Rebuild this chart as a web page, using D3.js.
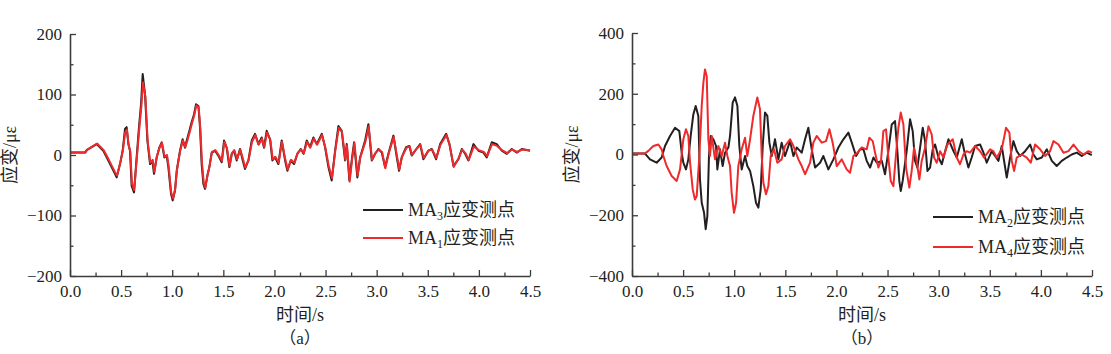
<!DOCTYPE html>
<head>
<meta charset="utf-8">
<script src="https://d3js.org/d3.v7.min.js"></script>
<style>
  body { margin: 0; background: #fff; }
  svg text { font-family: "Liberation Serif", "Noto Sans CJK SC", serif; fill: #231f20; }
</style>
</head>
<body>
<div id="chart"></div>
<script>
// ---- data ----
var xTicks = [0, 0.5, 1.0, 1.5, 2.0, 2.5, 3.0, 3.5, 4.0, 4.5];
var yTicksA = [-200, -100, 0, 100, 200];
var yTicksB = [-400, -200, 0, 200, 400];

// (a) MA3 (black) and MA1 (red), [time s, strain]
var ma3 = [[0,4],[0.147,4],[0.163,8],[0.261,18],[0.326,7],[0.375,-9],[0.44,-31],[0.457,-37],[0.489,-15],[0.515,7],
  [0.538,43],[0.554,46],[0.571,18],[0.587,7],[0.603,-51],[0.626,-62],[0.652,-4],[0.675,46],[0.695,84],[0.711,134],
  [0.734,100],[0.757,24],[0.783,-15],[0.806,-10],[0.822,-31],[0.848,-4],[0.874,12],[0.897,21],[0.923,-4],[0.946,-1],
  [0.962,-20],[0.988,-64],[1.005,-75],[1.027,-59],[1.044,-26],[1.076,7],[1.102,26],[1.125,12],[1.142,24],[1.168,40],
  [1.19,54],[1.213,67],[1.233,84],[1.256,81],[1.272,46],[1.288,-15],[1.305,-48],[1.321,-56],[1.344,-34],[1.363,-20],
  [1.386,4],[1.419,7],[1.451,-1],[1.484,-12],[1.507,24],[1.533,12],[1.559,-20],[1.582,2],[1.605,7],[1.631,-9],
  [1.663,10],[1.69,-9],[1.712,-23],[1.745,-9],[1.778,24],[1.81,35],[1.843,18],[1.875,29],[1.898,12],[1.924,40],
  [1.957,26],[1.98,-9],[2.006,-4],[2.038,-15],[2.071,24],[2.104,-9],[2.127,-26],[2.159,-9],[2.192,-15],[2.224,2],
  [2.257,10],[2.285,2],[2.316,24],[2.348,13],[2.381,29],[2.414,18],[2.463,35],[2.495,13],[2.528,-20],[2.56,-42],
  [2.593,7],[2.626,48],[2.658,40],[2.691,-9],[2.707,18],[2.733,-42],[2.756,-9],[2.779,21],[2.811,-37],[2.838,-4],
  [2.887,24],[2.919,51],[2.952,-9],[2.985,2],[3.017,10],[3.05,4],[3.082,-20],[3.115,2],[3.164,32],[3.197,-4],
  [3.219,-26],[3.245,-4],[3.288,13],[3.32,15],[3.343,-1],[3.376,7],[3.425,18],[3.457,-7],[3.506,7],[3.539,10],
  [3.581,-7],[3.621,18],[3.68,35],[3.712,18],[3.751,-18],[3.8,-7],[3.833,10],[3.865,2],[3.898,-9],[3.947,18],
  [3.996,7],[4.045,4],[4.077,-4],[4.126,21],[4.175,18],[4.224,7],[4.273,2],[4.322,10],[4.371,4],[4.42,10],[4.5,7]];
var ma1 = [[0,4],[0.15,4],[0.17,9],[0.265,19],[0.33,8],[0.38,-8],[0.445,-30],[0.46,-34],[0.492,-13],[0.518,8],
  [0.54,38],[0.557,42],[0.574,16],[0.59,6],[0.606,-47],[0.628,-58],[0.655,-3],[0.678,44],[0.698,80],[0.714,120],
  [0.738,96],[0.76,22],[0.786,-13],[0.809,-8],[0.825,-28],[0.85,-2],[0.877,13],[0.9,20],[0.926,-3],[0.949,0],
  [0.965,-18],[0.99,-62],[1.008,-72],[1.03,-55],[1.047,-24],[1.079,8],[1.105,24],[1.128,13],[1.145,22],[1.171,38],
  [1.193,52],[1.216,66],[1.236,82],[1.259,79],[1.275,44],[1.291,-12],[1.308,-45],[1.324,-54],[1.347,-32],[1.366,-18],
  [1.389,5],[1.422,8],[1.454,0],[1.487,-10],[1.51,22],[1.536,11],[1.562,-18],[1.585,3],[1.608,8],[1.634,-7],
  [1.666,9],[1.693,-7],[1.715,-21],[1.748,-8],[1.781,22],[1.813,33],[1.846,17],[1.878,27],[1.901,13],[1.927,37],
  [1.96,25],[1.983,-7],[2.009,-3],[2.041,-13],[2.074,22],[2.107,-8],[2.13,-24],[2.162,-8],[2.195,-13],[2.227,3],
  [2.26,9],[2.288,3],[2.319,22],[2.351,12],[2.384,27],[2.417,17],[2.466,33],[2.498,12],[2.531,-18],[2.563,-38],
  [2.596,8],[2.629,45],[2.661,38],[2.694,-8],[2.71,16],[2.736,-44],[2.759,-8],[2.782,20],[2.814,-34],[2.841,-3],
  [2.89,22],[2.922,47],[2.955,-8],[2.988,3],[3.02,9],[3.053,5],[3.085,-22],[3.118,3],[3.167,30],[3.2,-3],
  [3.222,-24],[3.248,-3],[3.291,12],[3.323,14],[3.346,0],[3.379,8],[3.428,17],[3.46,-5],[3.509,8],[3.542,9],
  [3.584,-5],[3.624,17],[3.683,33],[3.715,16],[3.754,-20],[3.803,-5],[3.836,9],[3.868,3],[3.901,-8],[3.95,14],
  [3.999,8],[4.048,5],[4.08,-2],[4.129,18],[4.178,15],[4.227,8],[4.276,3],[4.325,9],[4.374,5],[4.423,9],[4.5,8]];

// (b) MA2 (black) and MA4 (red)
var ma2 = [[0,3],[0.127,3],[0.176,-16],[0.241,-27],[0.29,-10],[0.323,28],[0.372,61],[0.421,88],[0.463,77],[0.486,6],
  [0.502,-27],[0.528,-49],[0.551,-16],[0.574,61],[0.6,132],[0.623,160],[0.649,127],[0.665,-82],[0.682,-159],[0.705,-192],
  [0.721,-246],[0.737,-203],[0.753,-5],[0.77,61],[0.796,50],[0.822,28],[0.835,-49],[0.861,17],[0.887,-38],[0.91,6],
  [0.943,23],[0.959,61],[0.985,171],[1.008,188],[1.031,160],[1.05,28],[1.073,-49],[1.106,-5],[1.128,-38],[1.155,-54],
  [1.187,-104],[1.213,-159],[1.236,-175],[1.259,-115],[1.279,28],[1.301,138],[1.324,127],[1.344,39],[1.367,-5],[1.399,50],
  [1.432,-16],[1.464,39],[1.497,-5],[1.546,44],[1.579,-5],[1.611,23],[1.66,6],[1.693,50],[1.725,88],[1.758,17],
  [1.791,-43],[1.84,-27],[1.872,-5],[1.921,-49],[1.97,-16],[2.019,23],[2.068,50],[2.117,72],[2.15,39],[2.192,-5],
  [2.231,17],[2.264,17],[2.296,-21],[2.329,-43],[2.362,-10],[2.395,-27],[2.444,-21],[2.475,-65],[2.508,11],[2.541,99],
  [2.573,110],[2.596,11],[2.615,-87],[2.629,-120],[2.648,-87],[2.687,11],[2.72,116],[2.746,77],[2.769,-21],[2.792,-43],
  [2.818,22],[2.844,88],[2.867,44],[2.89,-54],[2.916,-43],[2.942,17],[2.965,33],[2.998,-10],[3.031,-32],[3.063,11],
  [3.096,50],[3.145,11],[3.177,-10],[3.226,50],[3.258,0],[3.291,-43],[3.323,-10],[3.356,28],[3.405,33],[3.438,6],
  [3.47,-27],[3.519,11],[3.552,-5],[3.585,-21],[3.617,28],[3.666,-76],[3.699,-10],[3.731,44],[3.764,11],[3.796,-5],
  [3.846,11],[3.895,33],[3.927,0],[3.96,-16],[4.009,-10],[4.058,17],[4.107,-21],[4.155,-38],[4.204,-21],[4.253,-10],
  [4.302,0],[4.351,6],[4.4,-5],[4.449,6],[4.498,-2]];
var ma4 = [[0,3],[0.127,3],[0.16,12],[0.209,28],[0.258,33],[0.29,17],[0.307,-5],[0.339,-38],[0.388,-71],[0.437,-87],
  [0.47,-49],[0.502,50],[0.528,83],[0.551,61],[0.568,-27],[0.594,-115],[0.616,-148],[0.633,-137],[0.659,-5],[0.682,160],
  [0.698,236],[0.714,280],[0.731,258],[0.747,50],[0.763,-5],[0.78,61],[0.812,-16],[0.845,28],[0.877,-5],[0.91,39],
  [0.933,-5],[0.959,-38],[0.975,-126],[0.998,-192],[1.018,-159],[1.04,-38],[1.073,17],[1.106,55],[1.128,-5],[1.155,50],
  [1.187,127],[1.226,188],[1.252,149],[1.269,-5],[1.285,-93],[1.311,-131],[1.334,-104],[1.357,-5],[1.389,17],[1.422,-27],
  [1.464,-16],[1.497,28],[1.546,50],[1.579,28],[1.628,-16],[1.66,-38],[1.693,-65],[1.742,-27],[1.774,39],[1.807,61],
  [1.856,39],[1.898,44],[1.931,83],[1.963,39],[2.003,-38],[2.052,-16],[2.1,-49],[2.133,-60],[2.166,-5],[2.205,6],
  [2.247,23],[2.296,17],[2.322,55],[2.355,44],[2.378,6],[2.41,-43],[2.436,-21],[2.459,77],[2.485,83],[2.508,-10],
  [2.531,-87],[2.557,-104],[2.58,-10],[2.606,88],[2.629,138],[2.655,99],[2.681,-43],[2.713,-109],[2.736,-54],[2.759,22],
  [2.779,-10],[2.811,-82],[2.834,-21],[2.867,22],[2.9,93],[2.932,66],[2.955,-10],[2.981,-27],[3.014,11],[3.047,-10],
  [3.086,33],[3.138,50],[3.177,-10],[3.209,-32],[3.242,0],[3.275,11],[3.307,6],[3.356,28],[3.405,11],[3.444,-10],
  [3.503,17],[3.535,11],[3.568,-10],[3.617,17],[3.659,88],[3.692,72],[3.715,-21],[3.738,-54],[3.764,-10],[3.813,0],
  [3.862,-10],[3.901,-27],[3.943,33],[3.992,17],[4.041,-5],[4.09,11],[4.123,44],[4.172,33],[4.221,6],[4.27,11],
  [4.319,33],[4.368,11],[4.417,0],[4.466,11],[4.5,6]];

var black = "#231f20", red = "#ee2a2c";

var svg = d3.select("#chart").append("svg")
  .attr("width", 1111).attr("height", 354);

function fmt(d) {
  return d < 0 ? "\u2212" + Math.abs(d) : "" + d;
}

function drawPanel(p) {
  var x = d3.scaleLinear().domain([0, 4.5]).range([p.left, p.right]);
  var y = d3.scaleLinear().domain(p.yDomain).range([p.bottom, p.top]);
  var g = svg.append("g");

  // minor ticks first
  var minorX = d3.range(0.25, 4.5, 0.5);
  var minorY = p.yTicks.slice(0, -1).map(function(v, i) { return (v + p.yTicks[i + 1]) / 2; });

  g.append("g").attr("transform", "translate(0," + p.bottom + ")")
    .call(d3.axisBottom(x).tickValues(minorX).tickSize(-3.5).tickFormat(""))
    .call(function(s) { s.select(".domain").remove(); });
  g.append("g").attr("transform", "translate(" + p.left + ",0)")
    .call(d3.axisLeft(y).tickValues(minorY).tickSize(-3.5).tickFormat(""))
    .call(function(s) { s.select(".domain").remove(); });

  var line = d3.line().x(function(d) { return x(d[0]); }).y(function(d) { return y(d[1]); });

  g.append("path").datum(p.s1).attr("fill", "none").attr("stroke", black)
    .attr("stroke-width", 2).attr("stroke-linejoin", "round").attr("d", line);
  g.append("path").datum(p.s2).attr("fill", "none").attr("stroke", red)
    .attr("stroke-width", 2).attr("stroke-linejoin", "round").attr("d", line);

  var ax = g.append("g").attr("transform", "translate(0," + p.bottom + ")")
    .call(d3.axisBottom(x).tickValues(xTicks).tickSizeInner(-6).tickSizeOuter(0).tickPadding(9)
      .tickFormat(d3.format(".1f")));
  var ay = g.append("g").attr("transform", "translate(" + p.left + ",0)")
    .call(d3.axisLeft(y).tickValues(p.yTicks).tickSizeInner(-6).tickSizeOuter(0).tickPadding(8)
      .tickFormat(fmt));
  [ax, ay].forEach(function(a) {
    a.selectAll("text").style("font-size", "17px").style("font-family", "Liberation Serif").attr("fill", "#231f20");
    a.select(".domain").attr("stroke", "#3c3c3c").attr("stroke-width", 1.6);
  });
  g.selectAll(".tick line").attr("stroke", "#3c3c3c").attr("stroke-width", 1.3);

  // axis titles
  g.append("text").attr("transform", "translate(" + (p.left - 54) + "," + ((p.top + p.bottom) / 2) + ") rotate(-90)")
    .attr("text-anchor", "middle").style("font-size", "18px").text("应变/με");
  g.append("text").attr("x", (p.left + p.right) / 2).attr("y", 321)
    .attr("text-anchor", "middle").style("font-size", "18px").text("时间/s");
  var tg = g.append("text").attr("x", (p.left + p.right) / 2).attr("y", 344)
    .attr("text-anchor", "middle").style("font-size", "17px");
  tg.append("tspan").style("font-family", "Noto Sans CJK SC").text("（");
  tg.append("tspan").text(p.tag);
  tg.append("tspan").style("font-family", "Noto Sans CJK SC").text("）");

  // legend
  p.legend.forEach(function(l, i) {
    var ly = p.legY + i * p.legGap;
    g.append("line").attr("x1", p.legX).attr("x2", p.legX + 40).attr("y1", ly).attr("y2", ly)
      .attr("stroke", l.color).attr("stroke-width", 2);
    var t = g.append("text").attr("x", p.legX + 45).attr("y", ly + 6).style("font-size", "18px");
    t.append("tspan").text("MA");
    t.append("tspan").attr("dy", 4).style("font-size", "12px").text(l.sub);
    t.append("tspan").attr("dy", -4).text("应变测点");
  });
}

drawPanel({
  left: 70, right: 530, top: 34, bottom: 276, yDomain: [-200, 200], yTicks: yTicksA,
  s1: ma3, s2: ma1, tag: "a",
  legX: 363, legY: 210, legGap: 28,
  legend: [{ color: black, sub: "3" }, { color: red, sub: "1" }]
});
drawPanel({
  left: 632, right: 1092, top: 33, bottom: 276, yDomain: [-400, 400], yTicks: yTicksB,
  s1: ma2, s2: ma4, tag: "b",
  legX: 933, legY: 217, legGap: 30,
  legend: [{ color: black, sub: "2" }, { color: red, sub: "4" }]
});
</script>
</body>
</html>
